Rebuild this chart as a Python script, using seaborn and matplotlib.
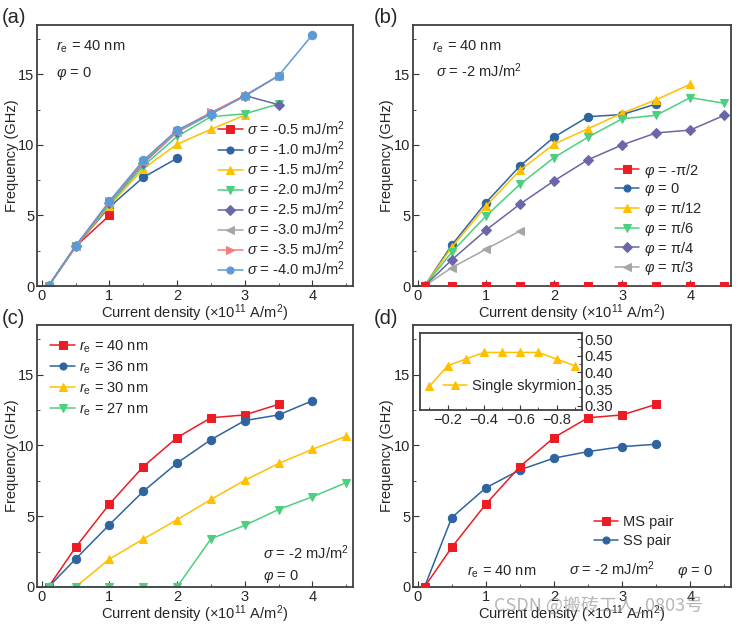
import matplotlib
matplotlib.use('Agg')
from matplotlib import pyplot as plt
from matplotlib.ticker import MultipleLocator
import seaborn as sns

sns.set_style('ticks')
plt.rcParams['font.family'] = ['Liberation Sans', 'DejaVu Sans']
plt.rcParams['mathtext.fontset'] = 'custom'
plt.rcParams['mathtext.rm'] = 'Liberation Sans'
plt.rcParams['mathtext.it'] = 'Liberation Sans:italic'
plt.rcParams['font.size'] = 10.5

# current density (x1e11 A/m^2)
x_a = [0.1, 0.5, 1, 1.5, 2, 2.5, 3, 3.5, 4]
x_b = [0.1, 0.5, 1, 1.5, 2, 2.5, 3, 3.5, 4, 4.5]

# (a) frequency vs current for several sigma, re = 40 nm, phi = 0
a_s05 = [0, 2.8, 5.0]
a_s10 = [0, 2.8, 5.6, 7.7, 9.05]
a_s15 = [0, 2.8, 5.7, 8.3, 10.05, 11.1, 12.1]
a_s20 = [0, 2.8, 5.8, 8.5, 10.6, 12.0, 12.2, 12.9]
a_s25 = [0, 2.8, 5.9, 8.7, 10.9, 12.2, 13.5, 12.85]
a_s30 = [0, 2.8, 5.9, 8.8, 10.9, 12.2, 13.5, 14.9]
a_s35 = [0, 2.75, 6.0, 8.8, 11.0, 12.3, 13.5, 14.9]
a_s40 = [0, 2.85, 6.0, 8.9, 11.05, 12.2, 13.45, 14.9, 17.8]
a_labels = ['-0.5', '-1.0', '-1.5', '-2.0', '-2.5', '-3.0', '-3.5', '-4.0']

# (b) frequency vs current for several phi, sigma = -2 mJ/m^2
b_m90 = [0, 0, 0, 0, 0, 0, 0, 0, 0, 0]
b_0 = [0, 2.9, 5.9, 8.5, 10.55, 12.0, 12.15, 12.9]
b_15 = [0, 2.75, 5.65, 8.2, 10.05, 11.15, 12.25, 13.2, 14.3]
b_30 = [0, 2.4, 4.95, 7.2, 9.1, 10.55, 11.85, 12.1, 13.35, 12.95]
b_45 = [0, 1.85, 3.95, 5.8, 7.45, 8.95, 10.0, 10.85, 11.05, 12.1]
b_60 = [0, 1.3, 2.6, 3.9]
b_labels = ['-\u03c0/2', '0', '\u03c0/12', '\u03c0/6', '\u03c0/4', '\u03c0/3']

# (c) frequency vs current for several re
c_40 = [0, 2.8, 5.85, 8.5, 10.55, 11.95, 12.15, 12.9]
c_36 = [0, 1.97, 4.4, 6.75, 8.75, 10.4, 11.75, 12.15, 13.15]
c_30 = [0, 0, 1.97, 3.38, 4.75, 6.18, 7.53, 8.72, 9.72, 10.65]
c_27 = [0, 0, 0, 0, 0, 3.4, 4.35, 5.47, 6.37, 7.37]
c_labels = ['40', '36', '30', '27']

# (d) MS pair vs SS pair, inset single skyrmion
d_ms = [0, 2.8, 5.85, 8.5, 10.55, 11.95, 12.15, 12.9]
d_ss = [0, 4.9, 7.0, 8.27, 9.1, 9.56, 9.91, 10.08]
inset_x = [-0.1, -0.2, -0.3, -0.4, -0.5, -0.6, -0.7, -0.8, -0.9]
inset_y = [0.359, 0.42, 0.44, 0.46, 0.46, 0.46, 0.46, 0.44, 0.42]

red = '#ec1c24'
blue = '#2e64a0'
yellow = '#ffc000'
green = '#4bd07f'
purple = '#6a66a8'
gray = '#a6a6a6'
pink = '#f47c7c'
lblue = '#5b9bd5'

fig = plt.figure(figsize=(7.4, 6.29), dpi=100)
pos = {'a': [0.05, 0.5453, 0.427, 0.415], 'b': [0.558, 0.5453, 0.43, 0.415],
       'c': [0.05, 0.0668, 0.427, 0.4165], 'd': [0.558, 0.0668, 0.43, 0.4165]}
axs = {k: fig.add_axes(v) for k, v in pos.items()}

leg_kw = dict(frameon=False, fontsize=10.5, handlelength=1.7, handletextpad=0.3,
              markerscale=0.85)


def line(ax, x, y, color, marker, label, ms=6, zorder=2):
    sns.lineplot(x=x[:len(y)], y=y, ax=ax, color=color, marker=marker, markersize=ms,
                 markeredgecolor=color, linewidth=1.1, label=label, zorder=zorder)


def style(ax):
    ax.set_xlim(-0.07, 4.6)
    ax.set_ylim(0, 18.5)
    ax.xaxis.set_major_locator(MultipleLocator(1))
    ax.xaxis.set_minor_locator(MultipleLocator(0.5))
    ax.yaxis.set_major_locator(MultipleLocator(5))
    ax.yaxis.set_minor_locator(MultipleLocator(2.5))
    ax.tick_params(which='both', direction='in', color='#333333', labelsize=10.5, pad=2)
    ax.tick_params(which='major', length=4)
    ax.tick_params(which='minor', length=2.5)
    for s in ax.spines.values():
        s.set_color('#404040')
        s.set_linewidth(1.3)
    ax.set_xlabel('Current density (\u00d710$^{11}$ A/m$^2$)', fontsize=10.5, labelpad=0)
    ax.set_ylabel('Frequency (GHz)', fontsize=10.5)
    ax.yaxis.set_label_coords(-0.058, 0.5)


# (a)
ax = axs['a']
a_series = [a_s05, a_s10, a_s15, a_s20, a_s25, a_s30, a_s35, a_s40]
a_colors = [red, blue, yellow, green, purple, gray, pink, lblue]
a_markers = ['s', 'o', '^', 'v', 'D', '<', '>', 'o']
for y, c, m, lab in zip(a_series, a_colors, a_markers, a_labels):
    line(ax, x_a, y, c, m, '$\\sigma$ = ' + lab + ' mJ/m$^2$', ms=5.5 if m == 'D' else 6)
style(ax)
ax.legend(loc='lower right', labelspacing=0.1, borderaxespad=0.15, **leg_kw)
ax.text(0.06, 0.9, '$r_\\mathrm{e}$ = 40 nm', transform=ax.transAxes, fontsize=10.5)
ax.text(0.06, 0.8, '$\\varphi$ = 0', transform=ax.transAxes, fontsize=10.5)

# (b)
ax = axs['b']
b_series = [b_m90, b_0, b_15, b_30, b_45, b_60]
b_colors = [red, blue, yellow, green, purple, gray]
b_markers = ['s', 'o', '^', 'v', 'D', '<']
for y, c, m, lab in zip(b_series, b_colors, b_markers, b_labels):
    line(ax, x_b, y, c, m, '$\\varphi$ = ' + lab, ms=5.5 if m == 'D' else 6,
         zorder=3 if c == red else 2)
style(ax)
ax.legend(loc='lower right', labelspacing=0.12, borderaxespad=0.2,
          bbox_to_anchor=(0.935, 0.0), **leg_kw)
ax.text(0.06, 0.9, '$r_\\mathrm{e}$ = 40 nm', transform=ax.transAxes, fontsize=10.5)
ax.text(0.06, 0.8, ' $\\sigma$ = -2 mJ/m$^2$', transform=ax.transAxes, fontsize=10.5)

# (c)
ax = axs['c']
c_series = [c_40, c_36, c_30, c_27]
c_colors = [red, blue, yellow, green]
c_markers = ['s', 'o', '^', 'v']
for y, c, m, lab in zip(c_series, c_colors, c_markers, c_labels):
    line(ax, x_b, y, c, m, '$r_\\mathrm{e}$ = ' + lab + ' nm')
style(ax)
ax.legend(loc='upper left', labelspacing=0.32, borderaxespad=0.5, **leg_kw)
ax.text(0.715, 0.105, '$\\sigma$ = -2 mJ/m$^2$', transform=ax.transAxes, fontsize=10.5)
ax.text(0.715, 0.025, '$\\varphi$ = 0', transform=ax.transAxes, fontsize=10.5)

# (d)
ax = axs['d']
line(ax, x_b, d_ms, red, 's', 'MS pair', zorder=3)
line(ax, x_b, d_ss, blue, 'o', 'SS pair')
style(ax)
ax.legend(loc='lower right', labelspacing=0.32, bbox_to_anchor=(0.86, 0.1), **leg_kw)
ax.text(0.17, 0.045, '$r_\\mathrm{e}$ = 40 nm', transform=ax.transAxes, fontsize=10.5)
ax.text(0.49, 0.045, '$\\sigma$ = -2 mJ/m$^2$', transform=ax.transAxes, fontsize=10.5)
ax.text(0.83, 0.045, '$\\varphi$ = 0', transform=ax.transAxes, fontsize=10.5)

ins = fig.add_axes([0.5676, 0.348, 0.219, 0.123])
sns.lineplot(x=inset_x, y=inset_y, ax=ins, color=yellow, marker='^', markersize=6,
             markeredgecolor=yellow, linewidth=1.1, label='Single skyrmion')
ins.set_xlim(-0.048, -0.94)
ins.set_ylim(0.287, 0.519)
ins.xaxis.set_major_locator(MultipleLocator(0.2))
ins.xaxis.set_minor_locator(MultipleLocator(0.1))
ins.yaxis.set_major_locator(MultipleLocator(0.05))
ins.yaxis.set_minor_locator(MultipleLocator(0.025))
ins.yaxis.tick_right()
ins.tick_params(which='both', direction='in', color='#333333', labelsize=10.5, pad=2)
ins.tick_params(which='major', length=3.5)
ins.tick_params(which='minor', length=2)
ins.set_xticks([-0.2, -0.4, -0.6, -0.8])
ins.set_xticklabels(['\u22120.2', '\u22120.4', '\u22120.6', '\u22120.8'])
ins.set_yticks([0.30, 0.35, 0.40, 0.45, 0.50])
ins.set_yticklabels(['0.30', '0.35', '0.40', '0.45', '0.50'])
for s in ins.spines.values():
    s.set_color('#404040')
    s.set_linewidth(1.3)
ins.set_xlabel('')
ins.set_ylabel('')
ins.legend(loc='lower center', bbox_to_anchor=(0.55, 0.05), **leg_kw)

# panel letters
for lab, (px, py) in {'(a)': (0.003, 0.972), '(b)': (0.505, 0.972),
                      '(c)': (0.003, 0.494), '(d)': (0.505, 0.494)}.items():
    fig.text(px, py, lab, fontsize=14.5, va='center', ha='left')

# watermark
fig.text(0.668, 0.037, 'CSDN @搬砖工人_0803号', fontsize=13, color='#888888', alpha=0.6,
         family=['Noto Sans CJK SC', 'DejaVu Sans'], va='center')

fig.savefig('out.png', dpi=100)
